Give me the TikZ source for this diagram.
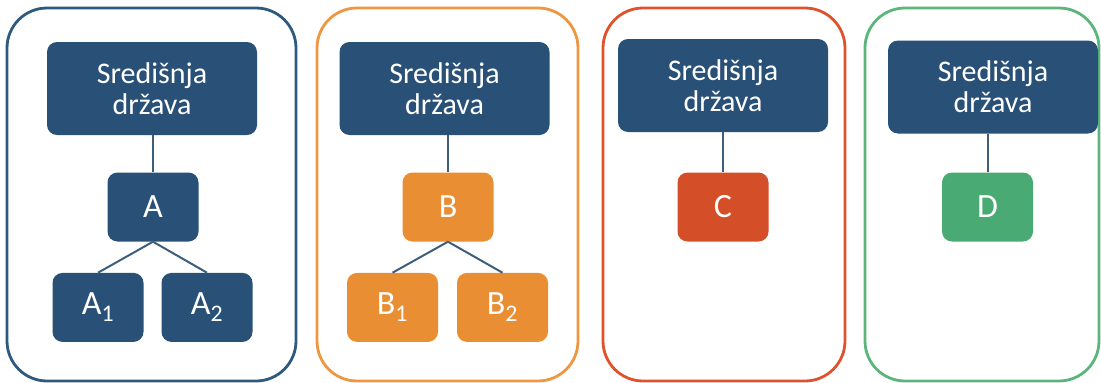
\documentclass[tikz,border=0pt]{standalone}
\usepackage{fontspec}
\setmainfont{Carlito}
\usetikzlibrary{positioning}

\definecolor{navy}{HTML}{295077}
\definecolor{tangerine}{HTML}{E98E32}
\definecolor{brick}{HTML}{D44E28}
\definecolor{jade}{HTML}{4AAA73}
\definecolor{navyline}{HTML}{2D5A7E}
\definecolor{tangerineline}{HTML}{EF9640}
\definecolor{brickline}{HTML}{E0522C}
\definecolor{jadeline}{HTML}{5BB67C}
\definecolor{linkc}{HTML}{3E5F7C}

\tikzset{
	frame/.style={draw=#1, line width=2.8pt, rounded corners=40pt},
	hub/.style={fill=navy, text=white, rounded corners=10pt, minimum width=210pt,
		minimum height=93pt, align=center, inner sep=0pt,
		font=\fontsize{30}{31}\selectfont},
	unit/.style={fill=#1, text=white, rounded corners=10pt, minimum width=91pt,
		minimum height=69pt, inner sep=0pt, font=\fontsize{34}{38}\selectfont},
	link/.style={draw=linkc, line width=2pt}
}

\begin{document}
\begin{tikzpicture}[x=1pt, y=-1pt]
				\useasboundingbox (0,0) rectangle (1101,383);
				% outer frames
				\draw[frame=navyline] (7,8) rectangle (296,381);
				\draw[frame=tangerineline] (317,8) rectangle (578,381);
				\draw[frame=brickline] (603,8) rectangle (845,381);
				\draw[frame=jadeline] (865,8) rectangle (1099,381);
				
				% central states
				\node[hub] (hubA) at (152,88.5) {Središnja\\država};
				\node[hub] (hubB) at (444.5,88.5) {Središnja\\država};
				\node[hub] (hubC) at (723,85.5) {Središnja\\država};
				\node[hub] (hubD) at (993,87) {Središnja\\država};
				
				% units
				\node[unit=navy] (A) at (153,207) {A};
				\node[unit=tangerine] (B) at (448,207) {B};
				\node[unit=brick] (C) at (723,207) {C};
				\node[unit=jade] (D) at (987.5,207) {D};
				
				% sub-units
				\node[unit=navy, below=31pt of A, xshift=-55pt] (A1) {A\textsubscript{1}};
				\node[unit=navy, below=31pt of A, xshift=54pt] (A2) {A\textsubscript{2}};
				\node[unit=tangerine, below=31pt of B, xshift=-55.5pt] (B1) {B\textsubscript{1}};
				\node[unit=tangerine, below=31pt of B, xshift=54.5pt] (B2) {B\textsubscript{2}};
				
				% links
				\foreach \u/\h in {A/hubA, B/hubB, C/hubC, D/hubD}
					\draw[link] (\u.north) -- (\u.north |- \h.south);
				\foreach \p/\c in {A/A1, A/A2, B/B1, B/B2}
					\draw[link] (\p.south) -- (\c.north);
			\end{tikzpicture}
\end{document}
